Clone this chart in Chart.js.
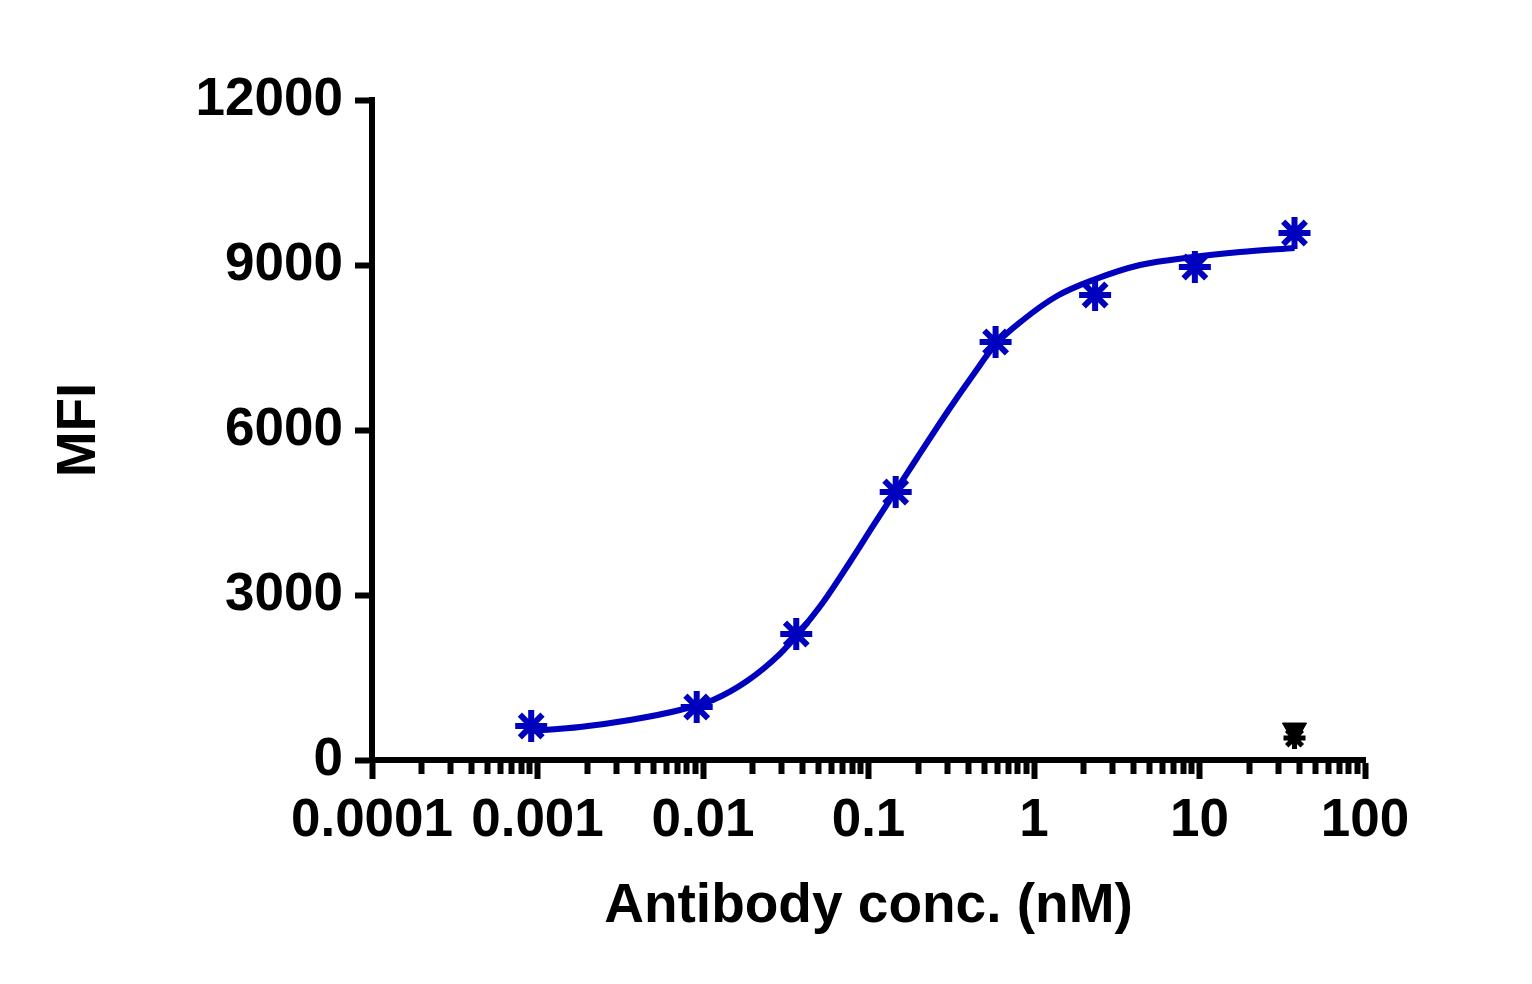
<!DOCTYPE html>
<html>
<head>
<meta charset="utf-8">
<script src="https://cdn.jsdelivr.net/npm/chart.js@4/dist/chart.umd.min.js"></script>
<style>
  html, body { margin: 0; padding: 0; background: #fff; }
  #wrap { width: 1532px; height: 984px; }
</style>
</head>
<body>
<div id="wrap"><canvas id="chart"></canvas></div>
<script>
'use strict';

// ── Data ──────────────────────────────────────────────────────────────────────
const concNM     = [0.000916, 0.00916, 0.0366, 0.146, 0.586, 2.34, 9.375, 37.5];
const mfiValues  = [618, 964, 2291, 4873, 7600, 8455, 8964, 9582];

// fitted curve, sampled by eye along the drawn line
const fitConc    = [0.000916, 0.001806, 0.003623, 0.007261, 0.01149, 0.01845, 0.0292, 0.03698, 0.05384,
                    0.07731, 0.1065, 0.1446, 0.1964, 0.3108, 0.428, 0.5813, 0.858, 1.377, 2.273,
                    4.371, 9.135, 17.57, 37.5];
const fitMfi     = [527, 600, 727, 909, 1091, 1436, 1930, 2270, 2891,
                    3600, 4255, 4873, 5491, 6400, 7000, 7545, 8000, 8436, 8727,
                    9000, 9145, 9236, 9310];

// control markers at top concentration (black)
const ctrlConc    = [37.5];
const ctrlTriVal  = [545];
const ctrlStarVal = [400];

const xMajorTicks  = [0.0001, 0.001, 0.01, 0.1, 1, 10, 100];
const xMajorLabels = ['0.0001', '0.001', '0.01', '0.1', '1', '10', '100'];
const yTicks       = [0, 3000, 6000, 9000, 12000];

const BLUE = '#0000BF';
const FONT = "'Liberation Sans', Arial, sans-serif";

// ── Helpers ───────────────────────────────────────────────────────────────────
const toPts = (xs, ys) => xs.map((x, i) => ({ x, y: ys[i] }));

function xTickValues() {
  const out = [];
  xMajorTicks.forEach((v, i) => {
    out.push(v);
    if (i < xMajorTicks.length - 1) {
      for (let m = 2; m <= 9; m++) out.push(+(v * m).toPrecision(3));
    }
  });
  return out;
}

const isMajor = v => xMajorTicks.some(t => Math.abs(t - v) / t < 1e-6);

// ── Chart ─────────────────────────────────────────────────────────────────────
new Chart(document.getElementById('chart'), {
  type: 'scatter',
  data: {
    datasets: [
      {
        type: 'line',
        label: 'fit',
        data: toPts(fitConc, fitMfi),
        borderColor: BLUE,
        borderWidth: 6,
        pointRadius: 0,
        cubicInterpolationMode: 'monotone',
        fill: false,
        clip: false,
      },
      {
        label: 'data',
        data: toPts(concNM, mfiValues),
        pointStyle: 'star',
        pointRadius: 16,
        borderColor: BLUE,
        backgroundColor: BLUE,
        borderWidth: 6,
        clip: false,
      },
      {
        label: 'ctrl-star',
        data: toPts(ctrlConc, ctrlStarVal),
        pointStyle: 'star',
        pointRadius: 11,
        borderColor: '#000',
        backgroundColor: '#000',
        borderWidth: 5,
        clip: false,
      },
      {
        label: 'ctrl-tri',
        data: toPts(ctrlConc, ctrlTriVal),
        pointStyle: 'triangle',
        rotation: 180,
        pointRadius: 14,
        borderColor: '#000',
        backgroundColor: '#000',
        borderWidth: 1,
        clip: false,
      },
    ],
  },
  options: {
    responsive: true, maintainAspectRatio: false, animation: false,
    layout: { padding: { left: 0, top: 100, right: 167, bottom: 0 } },
    plugins: { legend: { display: false }, tooltip: { enabled: false } },
    scales: {
      x: {
        type: 'logarithmic',
        min: 0.0001, max: 100,
        afterBuildTicks: s => { s.ticks = xTickValues().map(v => ({ value: v, major: isMajor(v) })); },
        afterFit: s => { s.height = 224; },
        border: { display: true, color: '#000', width: 6 },
        grid: {
          drawOnChartArea: false,
          tickLength: 19,
          tickWidth: 6,
          tickColor: '#000',
          tickBorderDash: ctx => (ctx.tick && isMajor(ctx.tick.value)) ? [] : [11, 200],
        },
        ticks: {
          autoSkip: false, maxRotation: 0, minRotation: 0, padding: 11,
          color: '#000',
          font: { family: FONT, size: 53, weight: 'bold' },
          callback: v => {
            const i = xMajorTicks.findIndex(t => Math.abs(t - v) / t < 1e-6);
            return i >= 0 ? xMajorLabels[i] : '';
          },
        },
        title: {
          display: true, text: 'Antibody conc. (nM)', color: '#000',
          font: { family: FONT, size: 55, weight: 'bold' },
          padding: { top: 0, bottom: 44 },
        },
      },
      y: {
        min: 0, max: 12000,
        afterBuildTicks: s => { s.ticks = yTicks.map(v => ({ value: v })); },
        afterFit: s => { s.width = 372; },
        border: { display: true, color: '#000', width: 6 },
        grid: { drawOnChartArea: false, tickLength: 17, tickWidth: 6, tickColor: '#000' },
        ticks: {
          padding: 12, color: '#000',
          font: { family: FONT, size: 53, weight: 'bold' },
          callback: v => String(v),
        },
        title: {
          display: true, text: 'MFI', color: '#000',
          font: { family: FONT, size: 55, weight: 'bold' },
          padding: { top: 47, bottom: 0 },
        },
      },
    },
  },
});
</script>
</body>
</html>
